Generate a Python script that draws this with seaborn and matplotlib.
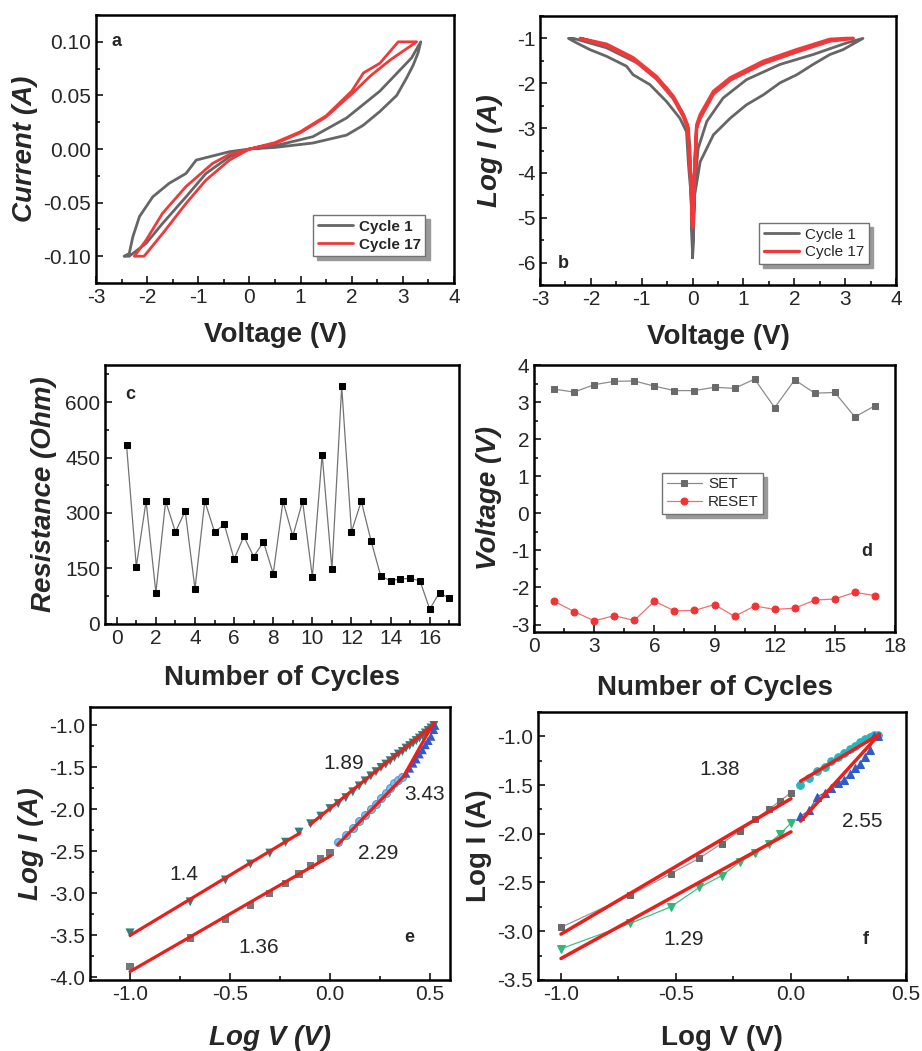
import matplotlib
matplotlib.use("Agg")
import matplotlib.pyplot as plt
import matplotlib.ticker as mticker
import seaborn as sns

# ---- panel a: I-V loops (linear current) ----
a_c1_v = [0, 0.5, 1.24, 1.9, 2.22, 2.55, 2.88, 3.07, 3.2, 3.3, 3.35,
          3.17, 2.55, 1.9, 1.24, 0.5, 0,
          -0.39, -1.04, -1.24, -1.57, -1.89, -2.15, -2.28, -2.35, -2.45,
          -2.35, -2.02, -1.70, -1.24, -0.85, -0.39, 0]
a_c1_i = [0, 0.0015, 0.0056, 0.013, 0.022, 0.035, 0.050, 0.066, 0.078, 0.09, 0.1,
          0.085, 0.054, 0.029, 0.0115, 0.003, 0,
          -0.0025, -0.0103, -0.0228, -0.032, -0.0446, -0.063, -0.082, -0.0975, -0.1,
          -0.1, -0.088, -0.0695, -0.0446, -0.0228, -0.0072, 0]
a_c17_v = [0, 0.5, 0.99, 1.5, 2.0, 2.23, 2.55, 2.91, 3.27,
           2.75, 2.36, 2.06, 1.5, 0.99, 0.5, 0,
           -0.39, -0.72, -1.24, -1.70, -2.02, -2.25, -2.06,
           -1.70, -1.24, -0.85, -0.39, 0]
a_c17_i = [0, 0.006, 0.016, 0.031, 0.054, 0.071, 0.080, 0.1, 0.1,
           0.083, 0.068, 0.054, 0.030, 0.015, 0.005, 0,
           -0.005, -0.0134, -0.035, -0.060, -0.085, -0.1, -0.1,
           -0.079, -0.0508, -0.029, -0.0103, 0]

# ---- panel b: log|I| vs V ----
b_c1_v = [0.0, 0.04, 0.15, 0.41, 0.74, 1.06, 1.39, 1.72, 2.05, 2.37, 2.70, 2.96, 3.35,
          3.03, 2.37, 1.72, 1.06, 0.60, 0.28, 0.11, 0.04, 0.0,
          -0.03, -0.08, -0.12, -0.25, -0.51, -0.84, -1.17, -1.30, -1.69, -2.02, -2.28, -2.44,
          -2.34, -1.69, -1.03, -0.51, -0.2, -0.08, -0.05, 0.0]
b_c1_logi = [-5.89, -4.5, -3.75, -3.15, -2.78, -2.48, -2.26, -1.99, -1.81, -1.58, -1.36, -1.25, -1.0,
             -1.10, -1.36, -1.58, -1.92, -2.33, -2.85, -3.45, -4.3, -5.89,
             -4.5, -3.83, -3.08, -2.78, -2.41, -2.03, -1.81, -1.62, -1.4, -1.25, -1.1, -1.0,
             -1.0, -1.21, -1.58, -2.1, -2.65, -3.0, -3.5, -5.89]
b_c17_v = [0.0, 0.03, 0.08, 0.15, 0.41, 0.74, 1.39, 2.05, 2.70, 3.03, 3.16,
           2.70, 2.05, 1.39, 0.74, 0.41, 0.15, 0.08, 0.03, 0.0,
           -0.03, -0.05, -0.10, -0.18, -0.38, -0.71, -1.17, -1.69, -2.21,
           -1.69, -1.17, -0.71, -0.38, -0.18, -0.10, -0.05, 0.0]
b_c17_logi = [-5.2, -4.2, -2.93, -2.70, -2.18, -1.88, -1.51, -1.25, -1.02, -1.0, -1.0,
              -1.06, -1.30, -1.56, -1.93, -2.24, -2.78, -3.0, -4.2, -5.2,
              -4.2, -3.83, -2.93, -2.70, -2.29, -1.85, -1.43, -1.13, -1.0,
              -1.16, -1.47, -1.90, -2.34, -2.75, -3.0, -3.83, -5.2]

# ---- panel c: resistance per cycle ----
c_cycles = [0.5, 1, 1.5, 2, 2.5, 3, 3.5, 4, 4.5, 5, 5.5, 6, 6.5, 7, 7.5, 8, 8.5,
            9, 9.5, 10, 10.5, 11, 11.5, 12, 12.5, 13, 13.5, 14, 14.5, 15, 15.5, 16, 16.5, 17]
c_res = [483, 155, 332, 85, 332, 249, 305, 95, 332, 249, 269, 175, 237, 182, 222, 136, 332,
         237, 332, 127, 458, 148, 642, 249, 332, 225, 129, 117, 122, 123, 117, 40, 85, 69]

# ---- panel d: SET / RESET voltages ----
d_cycles = list(range(1, 18))
d_set = [3.35, 3.27, 3.47, 3.56, 3.57, 3.43, 3.31, 3.31, 3.40, 3.37, 3.62, 2.85, 3.60,
         3.24, 3.26, 2.60, 2.90]
d_reset = [-2.37, -2.65, -2.90, -2.76, -2.89, -2.37, -2.63, -2.62, -2.46, -2.78, -2.50,
           -2.59, -2.56, -2.34, -2.31, -2.13, -2.22]

# ---- panel e: log-log fits ----
lv_low = [-1.0, -0.699, -0.523, -0.398, -0.301, -0.222, -0.155, -0.097, -0.046, 0.0]
lv_high = [0.041, 0.079, 0.114, 0.146, 0.176, 0.204, 0.230, 0.255, 0.279, 0.301, 0.322,
           0.342, 0.362, 0.380, 0.398, 0.415, 0.431, 0.447, 0.462, 0.477, 0.491, 0.505, 0.519]
e_sq = [-3.87, -3.53, -3.31, -3.14, -3.0, -2.88, -2.77, -2.67, -2.58, -2.51]
e_tri_dn_low = [-3.47, -3.10, -2.84, -2.65, -2.52, -2.39, -2.27, -2.17, -2.08, -1.99]
e_tri_dn_high = [-1.93, -1.86, -1.79, -1.72, -1.66, -1.60, -1.55, -1.50, -1.46, -1.42, -1.38,
                 -1.34, -1.31, -1.27, -1.24, -1.21, -1.18, -1.15, -1.12, -1.09, -1.06, -1.03, -1.0]
e_circ_x = lv_high[:13]
e_circ = [-2.39, -2.30, -2.22, -2.14, -2.07, -2.00, -1.93, -1.86, -1.80, -1.74, -1.69, -1.65, -1.61]
e_tri_up_x = [0.380, 0.398, 0.415, 0.431, 0.447, 0.462, 0.477, 0.491, 0.505, 0.519, 0.525]
e_tri_up = [-1.57, -1.51, -1.45, -1.40, -1.34, -1.29, -1.23, -1.18, -1.13, -1.05, -1.0]
e_fits = [([-1.0, -0.15], [-3.50, -2.28]),
          ([-0.1, 0.517], [-2.18, -0.99]),
          ([-1.0, 0.005], [-3.93, -2.55]),
          ([0.038, 0.367], [-2.42, -1.61]),
          ([0.367, 0.517], [-1.61, -0.97])]
e_slopes = ["1.4", "1.89", "3.43", "2.29", "1.36"]
e_slope_x = [-0.733, 0.067, 0.475, 0.242, -0.358]
e_slope_y = [-2.78, -1.45, -1.82, -2.52, -3.64]

# ---- panel f ----
f_sq = [-2.96, -2.63, -2.41, -2.25, -2.10, -1.97, -1.85, -1.75, -1.66, -1.58]
f_tri_dn = [-3.18, -2.92, -2.75, -2.55, -2.43, -2.29, -2.20, -2.10, -2.0, -1.89]
f_high_x = [0.041, 0.079, 0.114, 0.146, 0.176, 0.204, 0.230, 0.255, 0.279, 0.301, 0.322,
            0.342, 0.362, 0.380]
f_circ = [-1.50, -1.43, -1.36, -1.31, -1.25, -1.21, -1.17, -1.13, -1.10, -1.06, -1.03,
          -1.01, -0.99, -0.99]
f_tri_up = [-1.82, -1.76, -1.62, -1.58, -1.53, -1.48, -1.45, -1.39, -1.33, -1.28, -1.21,
            -1.14, -1.0, -1.0]
f_fits = [([-1.0, 0.0], [-3.03, -1.64]),
          ([-1.0, 0.0], [-3.28, -1.98]),
          ([0.042, 0.384], [-1.46, -0.98]),
          ([0.042, 0.384], [-1.87, -0.98])]
f_slopes = ["1.38", "2.55", "1.29"]
f_slope_x = [-0.31, 0.308, -0.467]
f_slope_y = [-1.34, -1.87, -3.08]

GRAY = "#666666"
RED = "#ee3a3a"
FIT_RED = "#e8201c"


def style_axes(ax, xmaj, xmin, ymaj, ymin):
    for sp in ax.spines.values():
        sp.set_visible(True)
        sp.set_linewidth(1.8)
        sp.set_color("black")
    ax.xaxis.set_major_locator(mticker.MultipleLocator(xmaj))
    ax.xaxis.set_minor_locator(mticker.MultipleLocator(xmin))
    ax.yaxis.set_major_locator(mticker.MultipleLocator(ymaj))
    ax.yaxis.set_minor_locator(mticker.MultipleLocator(ymin))
    ax.tick_params(which="both", direction="in", top=False, right=False,
                   labelsize=15, width=1.3)
    ax.tick_params(which="major", length=5)
    ax.tick_params(which="minor", length=3)


def add_legend(ax, loc, anchor, bold):
    leg = ax.legend(loc=loc, bbox_to_anchor=anchor, borderaxespad=0, frameon=True,
                    fancybox=False, framealpha=1, edgecolor="0.45", borderpad=0.3,
                    handlelength=2.3, labelspacing=0.25, handletextpad=0.4,
                    prop={"size": 11, "weight": "bold" if bold else "normal"},
                    shadow={"ox": 3, "oy": -3, "color": "0.6", "alpha": 1})
    leg.get_frame().set_linewidth(1.0)
    return leg


def main():
    sns.set_style("ticks")
    plt.rcParams["font.family"] = ["Liberation Sans", "DejaVu Sans"]
    plt.rcParams["axes.unicode_minus"] = False

    fig = plt.figure(figsize=(9.22, 10.51), dpi=100)
    ax_a = fig.add_axes([0.1041, 0.7307, 0.3883, 0.255])
    ax_b = fig.add_axes([0.5857, 0.7288, 0.3861, 0.256])
    ax_c = fig.add_axes([0.1139, 0.4063, 0.384, 0.2464])
    ax_d = fig.add_axes([0.5792, 0.3987, 0.3915, 0.254])
    ax_e = fig.add_axes([0.0976, 0.0676, 0.3905, 0.2597])
    ax_f = fig.add_axes([0.5835, 0.0676, 0.3991, 0.255])

    lab = {"fontsize": 20, "fontweight": "bold"}
    labi = {"fontsize": 20, "fontweight": "bold", "fontstyle": "italic"}

    # a
    sns.lineplot(x=a_c1_v, y=a_c1_i, sort=False, estimator=None, color=GRAY, lw=2,
                 ax=ax_a, label="Cycle 1")
    sns.lineplot(x=a_c17_v, y=a_c17_i, sort=False, estimator=None, color=RED, lw=2,
                 ax=ax_a, label="Cycle 17")
    ax_a.set_xlim(-3, 4)
    ax_a.set_ylim(-0.125, 0.125)
    style_axes(ax_a, 1, 0.5, 0.05, 0.025)
    ax_a.yaxis.set_major_formatter(mticker.FormatStrFormatter("%.2f"))
    ax_a.set_xlabel("Voltage (V)", labelpad=11, **lab)
    ax_a.set_ylabel("Current (A)", labelpad=4, **labi)
    add_legend(ax_a, "lower right", (0.92, 0.10), True)
    ax_a.text(-2.59, 0.1, "a", fontsize=13, fontweight="bold", va="center", ha="center")

    # b
    sns.lineplot(x=b_c1_v, y=b_c1_logi, sort=False, estimator=None, color=GRAY, lw=2,
                 ax=ax_b, label="Cycle 1")
    sns.lineplot(x=b_c17_v, y=b_c17_logi, sort=False, estimator=None, color=RED, lw=2.4,
                 ax=ax_b, label="Cycle 17")
    ax_b.set_xlim(-3, 4)
    ax_b.set_ylim(-6.5, -0.5)
    style_axes(ax_b, 1, 0.5, 1, 0.5)
    ax_b.set_xlabel("Voltage (V)", labelpad=11, **lab)
    ax_b.set_ylabel("Log I (A)", labelpad=10, **labi)
    add_legend(ax_b, "lower right", (0.924, 0.078), False)
    ax_b.text(-2.55, -6.02, "b", fontsize=13, fontweight="bold", va="center", ha="center")

    # c
    sns.lineplot(x=c_cycles, y=c_res, color="0.45", lw=0.9, ax=ax_c,
                 marker="s", markersize=4.5, markerfacecolor="black",
                 markeredgecolor="black")
    ax_c.set_xlim(-0.6, 17.5)
    ax_c.set_ylim(0, 700)
    style_axes(ax_c, 2, 1, 150, 75)
    ax_c.set_xlabel("Number of Cycles", labelpad=12, **lab)
    ax_c.set_ylabel("Resistance (Ohm)", labelpad=6, **labi)
    ax_c.text(0.7, 620, "c", fontsize=13, fontweight="bold", va="center", ha="center")

    # d
    sns.lineplot(x=d_cycles, y=d_set, color="0.55", lw=0.9, ax=ax_d, marker="s",
                 markersize=4.5, markerfacecolor="#6a6a6a", markeredgecolor="#6a6a6a",
                 label="SET")
    sns.lineplot(x=d_cycles, y=d_reset, color="#f07070", lw=0.9, ax=ax_d, marker="o",
                 markersize=5, markerfacecolor="#ee3434", markeredgecolor="#ee3434",
                 label="RESET")
    ax_d.set_xlim(0, 18)
    ax_d.set_ylim(-3.2, 4)
    style_axes(ax_d, 3, 1.5, 1, 0.5)
    ax_d.set_xlabel("Number of Cycles", labelpad=14, **lab)
    ax_d.set_ylabel("Voltage (V)", labelpad=6, **labi)
    add_legend(ax_d, "upper left", (0.355, 0.597), False)
    ax_d.text(16.6, -1.04, "d", fontsize=13, fontweight="bold", va="center", ha="center")

    # e
    sns.scatterplot(x=lv_low, y=e_sq, marker="s", color="#777777", s=28,
                    edgecolor="none", ax=ax_e)
    sns.scatterplot(x=lv_low + lv_high, y=e_tri_dn_low + e_tri_dn_high, marker="v",
                    color="#2b8080", s=42, edgecolor="none", ax=ax_e)
    sns.scatterplot(x=e_circ_x, y=e_circ, marker="o", color="#7cc0ee", s=32,
                    edgecolor="#4aa0e0", linewidth=0.8, ax=ax_e)
    sns.scatterplot(x=e_tri_up_x, y=e_tri_up, marker="^", color="#3a58c8", s=40,
                    edgecolor="none", ax=ax_e)
    for fx, fy in e_fits:
        sns.lineplot(x=fx, y=fy, color=FIT_RED, lw=2.3, ax=ax_e)
    for t, x, y in zip(e_slopes, e_slope_x, e_slope_y):
        ax_e.text(x, y, t, fontsize=15, ha="center", va="center")
    ax_e.text(0.397, -3.52, "e", fontsize=13, fontweight="bold", va="center", ha="center")
    ax_e.set_xlim(-1.2, 0.6)
    ax_e.set_ylim(-4.03, -0.78)
    style_axes(ax_e, 0.5, 0.25, 0.5, 0.25)
    ax_e.xaxis.set_major_formatter(mticker.FormatStrFormatter("%.1f"))
    ax_e.yaxis.set_major_formatter(mticker.FormatStrFormatter("%.1f"))
    ax_e.set_xlabel("Log V (V)", labelpad=15, **labi)
    ax_e.set_ylabel("Log I (A)", labelpad=4, **labi)

    # f
    sns.lineplot(x=lv_low, y=f_sq, color="0.6", lw=0.9, ax=ax_f, marker="s",
                 markersize=5, markerfacecolor="#6a6a6a", markeredgecolor="#6a6a6a")
    sns.lineplot(x=lv_low, y=f_tri_dn, color="#40c080", lw=0.9, ax=ax_f, marker="v",
                 markersize=6, markerfacecolor="#2fb87a", markeredgecolor="#2fb87a")
    sns.lineplot(x=f_high_x, y=f_circ, color="#40c0c8", lw=0.8, ax=ax_f, marker="o",
                 markersize=5.5, markerfacecolor="#22b8c0", markeredgecolor="#22b8c0")
    sns.lineplot(x=f_high_x, y=f_tri_up, color="#4060c8", lw=0.8, ax=ax_f, marker="^",
                 markersize=6, markerfacecolor="#2f5cc8", markeredgecolor="#2f5cc8")
    for fx, fy in f_fits:
        sns.lineplot(x=fx, y=fy, color=FIT_RED, lw=2.5, ax=ax_f)
    for t, x, y in zip(f_slopes, f_slope_x, f_slope_y):
        ax_f.text(x, y, t, fontsize=15, ha="center", va="center")
    ax_f.text(0.326, -3.08, "f", fontsize=13, fontweight="bold", va="center", ha="center")
    ax_f.set_xlim(-1.1, 0.5)
    ax_f.set_ylim(-3.5, -0.75)
    style_axes(ax_f, 0.5, 0.25, 0.5, 0.25)
    ax_f.xaxis.set_major_formatter(mticker.FormatStrFormatter("%.1f"))
    ax_f.yaxis.set_major_formatter(mticker.FormatStrFormatter("%.1f"))
    ax_f.set_xlabel("Log V (V)", labelpad=15, **lab)
    ax_f.set_ylabel("Log I (A)", labelpad=4, **lab)

    fig.savefig("out.png", dpi=100)
    plt.close(fig)


if __name__ == "__main__":
    main()
